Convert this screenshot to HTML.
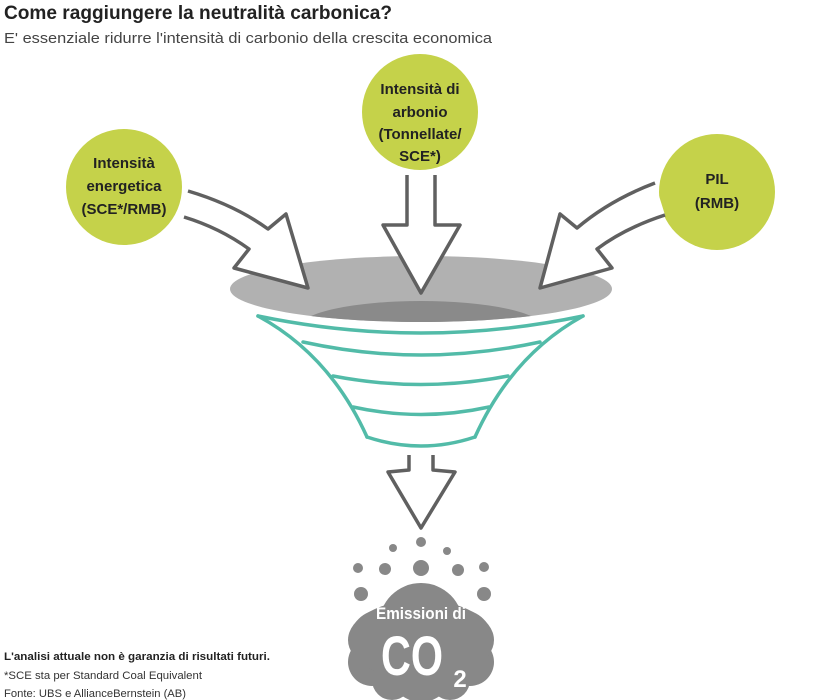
<!DOCTYPE html>
<html><head><meta charset="utf-8"><style>
body{margin:0;background:#fff;}
svg{display:block;}
</style></head><body>
<svg width="840" height="700" viewBox="0 0 840 700" xmlns="http://www.w3.org/2000/svg" font-family="Liberation Sans, sans-serif">
<text x="4" y="19" font-size="19" font-weight="bold" fill="#222" textLength="388" lengthAdjust="spacingAndGlyphs">Come raggiungere la neutralità carbonica?</text>
<text x="4" y="43" font-size="15" fill="#444" textLength="488" lengthAdjust="spacingAndGlyphs">E' essenziale ridurre l'intensità di carbonio della crescita economica</text>

<g fill="#c5d24a">
<circle cx="124" cy="187" r="58"/>
<circle cx="420" cy="112" r="58"/>
<circle cx="717" cy="192" r="58"/>
</g>
<g font-size="15" font-weight="bold" fill="#222" text-anchor="middle">
<text x="124" y="168">Intensità</text>
<text x="124" y="191">energetica</text>
<text x="124" y="214">(SCE*/RMB)</text>
<text x="420" y="94">Intensità di</text>
<text x="420" y="117">arbonio</text>
<text x="420" y="139">(Tonnellate/</text>
<text x="420" y="161">SCE*)</text>
<text x="717" y="184">PIL</text>
<text x="717" y="208">(RMB)</text>
</g>

<defs><clipPath id="ce"><ellipse cx="421" cy="289" rx="191" ry="33"/></clipPath></defs>
<ellipse cx="421" cy="289" rx="191" ry="33" fill="#b1b1b1"/>
<ellipse cx="421" cy="327" rx="121" ry="26" fill="#8a8a8a" clip-path="url(#ce)"/>

<g fill="#fff" stroke="#606060" stroke-width="3.5" stroke-linejoin="round">
<path d="M188,191 Q235,205 268,229 L286,214 L308,288 L234,268 L249,249 Q220,228 184,217"/>
<path d="M407,175 L407,225 L383,225 L421,293 L460,225 L435,225 L435,175"/>
<path d="M655,183 Q610,200 577,228 L560,214 L540,288 L612,268 L597,249 Q625,228 665,215"/>
<path d="M409,455 L409,470 L388,472 L421,528 L455,472 L433,470 L433,455"/>
</g>

<g fill="none" stroke="#52bba8" stroke-width="3.5" stroke-linecap="round">
<path d="M258,316 Q421,350 583,316"/>
<path d="M258,316 Q330,355 367,437"/>
<path d="M583,316 Q512,355 475,437"/>
<path d="M303,342 Q421,368 540,342"/>
<path d="M333,376 Q421,393 508,376"/>
<path d="M353,407 Q421,422 489,407"/>
<path d="M367,437 Q421,455 475,437"/>
</g>

<g fill="#888">
<circle cx="421" cy="542" r="5"/><circle cx="393" cy="548" r="4"/><circle cx="447" cy="551" r="4"/>
<circle cx="358" cy="568" r="5"/><circle cx="385" cy="569" r="6"/><circle cx="421" cy="568" r="8"/>
<circle cx="458" cy="570" r="6"/><circle cx="484" cy="567" r="5"/>
<circle cx="361" cy="594" r="7"/><circle cx="484" cy="594" r="7"/>
<circle cx="421" cy="625" r="42"/>
<circle cx="380" cy="640" r="30"/><circle cx="462" cy="640" r="30"/>
<circle cx="372" cy="662" r="24"/><circle cx="470" cy="662" r="24"/>
<circle cx="421" cy="670" r="32"/>
<circle cx="392" cy="680" r="20"/><circle cx="450" cy="680" r="20"/>
<ellipse cx="421" cy="640" rx="73" ry="40"/>
</g>
<text x="421" y="619" font-size="17" font-weight="bold" fill="#fff" text-anchor="middle" textLength="90" lengthAdjust="spacingAndGlyphs">Emissioni di</text>
<text x="412" y="675" font-size="56" font-weight="bold" fill="#fff" text-anchor="middle" textLength="62" lengthAdjust="spacingAndGlyphs">CO</text>
<text x="460" y="687" font-size="24" font-weight="bold" fill="#fff" text-anchor="middle">2</text>

<text x="4" y="660" font-size="11" font-weight="bold" fill="#222" textLength="266" lengthAdjust="spacingAndGlyphs">L'analisi attuale non è garanzia di risultati futuri.</text>
<text x="4" y="679" font-size="11" fill="#333" textLength="198" lengthAdjust="spacingAndGlyphs">*SCE sta per Standard Coal Equivalent</text>
<text x="4" y="697" font-size="11" fill="#333" textLength="182" lengthAdjust="spacingAndGlyphs">Fonte: UBS e AllianceBernstein (AB)</text>
</svg>
</body></html>
